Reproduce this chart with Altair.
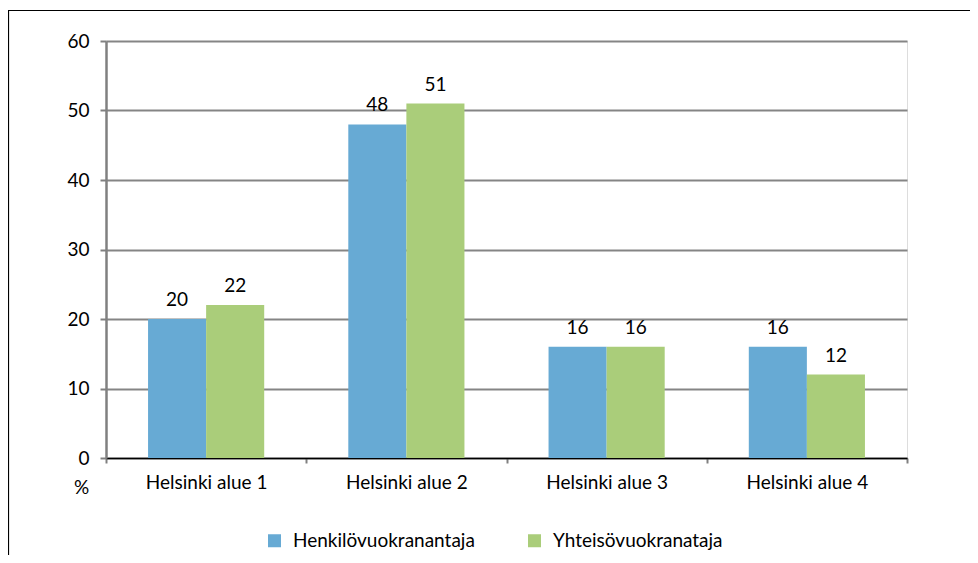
import altair as alt
import pandas as pd

categories = ["Helsinki alue 1", "Helsinki alue 2", "Helsinki alue 3", "Helsinki alue 4"]
series = ["Henkilövuokranantaja", "Yhteisövuokranataja"]
henkilo = [20, 48, 16, 16]
yhteiso = [22, 51, 16, 12]
colors = ["#67AAD4", "#AACD7A"]
y_ticks = [0, 10, 20, 30, 40, 50, 60]

rows = []
for c, a, b in zip(categories, henkilo, yhteiso):
    rows.append({"alue": c, "sarja": series[0], "arvo": a})
    rows.append({"alue": c, "sarja": series[1], "arvo": b})
df = pd.DataFrame(rows)

FONT = "Lato"
FS = 19

x_enc = alt.X(
    "alue:N", sort=categories,
    scale=alt.Scale(paddingInner=0, paddingOuter=0),
    axis=alt.Axis(title=None, labelAngle=0, tickBand="extent", labelFont=FONT,
                  labelFontSize=FS, labelColor="#000000", labelPadding=10,
                  domainColor="#000000", domainWidth=1.5, tickColor="#808080",
                  tickWidth=2, tickSize=5, grid=False),
)
xo_enc = alt.XOffset("sarja:N", sort=series,
                     scale=alt.Scale(paddingInner=0, paddingOuter=0.724))
y_enc = alt.Y(
    "arvo:Q", scale=alt.Scale(domain=[0, 60], nice=False),
    axis=alt.Axis(values=y_ticks, title="%", titleAngle=0, titleX=-25, titleY=446,
                  titleAlign="center", titleBaseline="middle", titleFont=FONT,
                  titleFontSize=FS, titleFontWeight="normal", titleColor="#000000",
                  labelFont=FONT, labelFontSize=FS, labelColor="#000000", labelPadding=11,
                  domainColor="#808080", domainWidth=2.5, tickColor="#808080",
                  tickWidth=2, tickSize=6, grid=True, gridColor="#858585", gridWidth=2),
)

bars = alt.Chart(df).mark_bar().encode(
    x=x_enc, xOffset=xo_enc, y=y_enc,
    color=alt.Color("sarja:N", sort=series,
                    scale=alt.Scale(domain=series, range=colors),
                    legend=alt.Legend(title=None, orient="none", legendX=159, legendY=490,
                                      direction="horizontal", symbolType="square",
                                      symbolSize=169, symbolStrokeWidth=0,
                                      labelFont=FONT, labelFontSize=FS, labelLimit=0,
                                      labelColor="#000000", labelOffset=9,
                                      columnPadding=50)),
)

labels = alt.Chart(df).mark_text(font=FONT, fontSize=FS, color="#000000",
                                 baseline="alphabetic", dy=-13).encode(
    x=alt.X("alue:N", sort=categories), xOffset=alt.XOffset("sarja:N", sort=series),
    y="arvo:Q", text="arvo:Q",
)

frame = alt.Chart(pd.DataFrame({"a": [0]})).mark_rect(
    fill=None, stroke="#000000", strokeWidth=1.2, clip=False
).encode(x=alt.value(-97.5), x2=alt.value(1000), y=alt.value(-30.5), y2=alt.value(700))

chart = alt.layer(frame, bars, labels).properties(
    width=801, height=417,
    autosize=alt.AutoSizeParams(type="none"),
    padding={"left": 98, "top": 33, "right": 63, "bottom": 97},
).configure_view(stroke="#000000", strokeWidth=1.2).configure(background="white")

chart.save("out.html", embed_options={"renderer": "svg", "actions": False})
